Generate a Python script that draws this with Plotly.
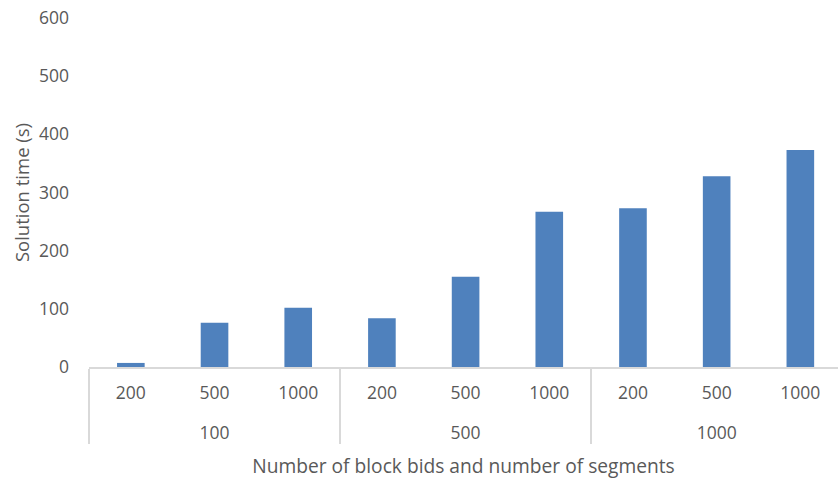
import plotly.graph_objects as go

# Number of block bids (outer) and number of segments (inner)
block_bids = ["100", "100", "100", "500", "500", "500", "1000", "1000", "1000"]
segments = ["200", "500", "1000", "200", "500", "1000", "200", "500", "1000"]
solution_time = [7, 76, 102, 84, 155, 267, 273, 328, 373]

font_family = "Open Sans, Liberation Sans, sans-serif"
text_color = "#595959"

# outer group labels sit one line lower, like the two-row category axis
outer_labels = ["<br>" + b for b in block_bids]

fig = go.Figure(
    go.Bar(
        x=[outer_labels, segments],
        y=solution_time,
        marker=dict(color="#4f81bd", line=dict(width=0)),
        width=0.33,
    )
)

fig.update_layout(
    width=838,
    height=479,
    margin=dict(l=89, r=0, t=18, b=112),
    paper_bgcolor="white",
    plot_bgcolor="white",
    showlegend=False,
    font=dict(family=font_family, size=17.5, color=text_color),
)

fig.update_xaxes(
    type="multicategory",
    range=[-0.5, 8.45],
    showline=True,
    linecolor="#d9d9d9",
    linewidth=1.5,
    showgrid=False,
    ticks="",
    ticklabelstandoff=9,
    showdividers=True,
    dividercolor="#d9d9d9",
    dividerwidth=1.5,
    tickfont=dict(size=17.5, color=text_color),
    title=dict(
        text="Number of block bids and number of segments",
        font=dict(size=19.2, color=text_color),
        standoff=17,
    ),
)

fig.update_yaxes(
    range=[0, 600],
    dtick=100,
    showline=False,
    showgrid=False,
    zeroline=False,
    ticks="",
    ticklabelstandoff=19,
    tickfont=dict(size=17.5, color=text_color),
    title=dict(text="Solution time (s)", font=dict(size=18.5, color=text_color), standoff=4),
)

fig.write_html("out.html")
